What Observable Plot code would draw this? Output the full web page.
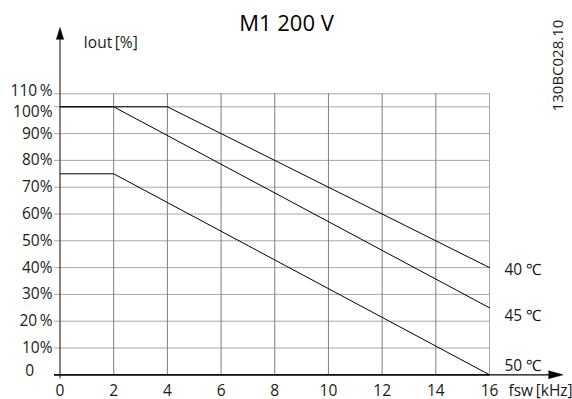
<!DOCTYPE html>
<html><head><meta charset="utf-8">
<script src="https://cdn.jsdelivr.net/npm/d3@7"></script>
<script src="https://cdn.jsdelivr.net/npm/@observablehq/plot@0.6"></script>
<style>
html,body{margin:0;padding:0;background:#fff}
svg{font-family:"Open Sans",sans-serif;display:block}
</style>
</head><body><div id="chart"></div>
<script>
// ---- data ----
const seriesNames = ["40 ℃", "45 ℃", "50 ℃"];
const fsw40 = [0, 4, 16];  const iout40 = [100, 100, 40];
const fsw45 = [0, 2, 16];  const iout45 = [100, 100, 25];
const fsw50 = [0, 2, 16];  const iout50 = [75, 75, 0];
const xTicks = [0, 2, 4, 6, 8, 10, 12, 14, 16];
const yTicks = [0, 10, 20, 30, 40, 50, 60, 70, 80, 90, 100, 110];
const yTickLabels = ["0", "10%", "20\u2009%", "30%", "40%", "50%", "60%", "70%", "80%", "90%", "100%", "110\u2009%"];
const titleText = "M1 200 V";
const yLabel = "Iout\u2009[%]";
const xLabel = "fsw\u2009[kHz]";
const docCode = "130BC028.10";

// ---- build table ----
const seriesX = [fsw40, fsw45, fsw50];
const seriesY = [iout40, iout45, iout50];
const rows = seriesNames.flatMap((s, k) => seriesX[k].map((f, i) => ({series: s, fsw: f, iout: seriesY[k][i]})));
const ends = seriesNames.map((s, k) => ({series: s, fsw: seriesX[k].at(-1), iout: seriesY[k].at(-1)}));
const yTickRows = yTicks.map((v, i) => ({v, label: yTickLabels[i]}));
const xMin = xTicks[0], xMax = xTicks.at(-1);
const labelDy = [2, 8, -9];

const fs = 15.5;
const ink = "#1a1a1a";
const chart = Plot.plot({
  width: 572, height: 399,
  marginTop: 0, marginRight: 0, marginBottom: 0, marginLeft: 0,
  style: {fontFamily: "'Open Sans', sans-serif", background: "#fff"},
  x: {domain: [xMin, xMax], range: [59.5, 489], axis: null},
  y: {type: "linear", domain: [0, 100, 110], range: [374.3, 106.3, 93.3], axis: null},
  marks: [
    // horizontal grid (baseline in black)
    Plot.ruleY(yTicks, {x1: xMin, x2: xMax, insetLeft: -5.5, stroke: d => d === 0 ? "#000000" : "#a8a8a8", strokeWidth: d => d === 0 ? 1.2 : 1}),
    // vertical grid
    Plot.ruleX(xTicks.filter(d => d > xMin && d < xMax), {y1: 110, y2: 0, stroke: "#7f7f7f", strokeWidth: 1}),
    Plot.ruleX([xMax], {y1: 110, y2: 0, stroke: "#a8a8a8", strokeWidth: 1}),
    // curves
    Plot.line(rows, {x: "fsw", y: "iout", z: "series", stroke: "#000", strokeWidth: 1}),
    // y tick labels
    Plot.text(yTickRows.filter(d => d.v > 0 && d.v < 100), {x: xMin, y: "v", text: "label", textAnchor: "end", dx: -7.5, fontSize: fs, fill: ink}),
    Plot.text(yTickRows.filter(d => d.v === 100), {x: xMin, y: "v", text: "label", textAnchor: "end", dx: -7.5, dy: 5, fontSize: fs, fill: ink}),
    Plot.text(yTickRows.filter(d => d.v === 110), {x: xMin, y: "v", text: "label", textAnchor: "end", dx: -7.5, dy: -2.6, fontSize: fs, fill: ink}),
    Plot.text(yTickRows.filter(d => d.v === 0), {x: xMin, y: "v", text: "label", textAnchor: "end", dx: -26, dy: -4, fontSize: fs, fill: ink}),
    // x tick labels
    Plot.text(xTicks, {x: d => d, y: 0, text: d => String(d), dy: 16, fontSize: fs, fill: ink}),
    // series labels
    ...ends.map((e, k) => Plot.text([e], {x: "fsw", y: "iout", text: "series", textAnchor: "start", dx: 15, dy: labelDy[k], fontSize: fs, fill: ink})),
    // axis titles
    Plot.text([xLabel], {x: xMax, y: 0, text: d => d, textAnchor: "start", dx: 19, dy: 16, fontSize: fs, fill: ink}),
    Plot.text([yLabel], {frameAnchor: "top-left", text: d => d, textAnchor: "start", lineAnchor: "middle", dx: 83, dy: 43, fontSize: fs, fill: ink}),
    // title
    Plot.text([titleText], {frameAnchor: "top", text: d => d, lineAnchor: "middle", dx: 0, dy: 23, fontSize: 22, letterSpacing: 3.2, fill: "#000"}),
    // document code
    Plot.text([docCode], {frameAnchor: "top-left", text: d => d, rotate: -90, textAnchor: "middle", lineAnchor: "middle", dx: 557.5, dy: 65, fontSize: 15, fill: ink}),
    // axes
    Plot.ruleX([xMin], {y1: 110, y2: 0, insetTop: -54.3, insetBottom: -4, stroke: "#333", strokeWidth: 1.2}),
    Plot.ruleY([0], {x1: xMin, x2: xMax, insetLeft: -5.5, insetRight: -60, stroke: "#000", strokeWidth: 1.2}),
    Plot.vector([0], {x: xMin, y: 110, dy: -54.3, length: 12, r: 3.7, shape: "spike", anchor: "start", rotate: 0, fill: "#000", stroke: "#000", strokeWidth: 0.5}),
    Plot.vector([0], {x: xMax, y: 0, dx: 59, length: 14.5, r: 4, shape: "spike", anchor: "start", rotate: 90, fill: "#000", stroke: "#000", strokeWidth: 0.5})
  ]
});
document.getElementById("chart").appendChild(chart);
</script>
</body></html>
